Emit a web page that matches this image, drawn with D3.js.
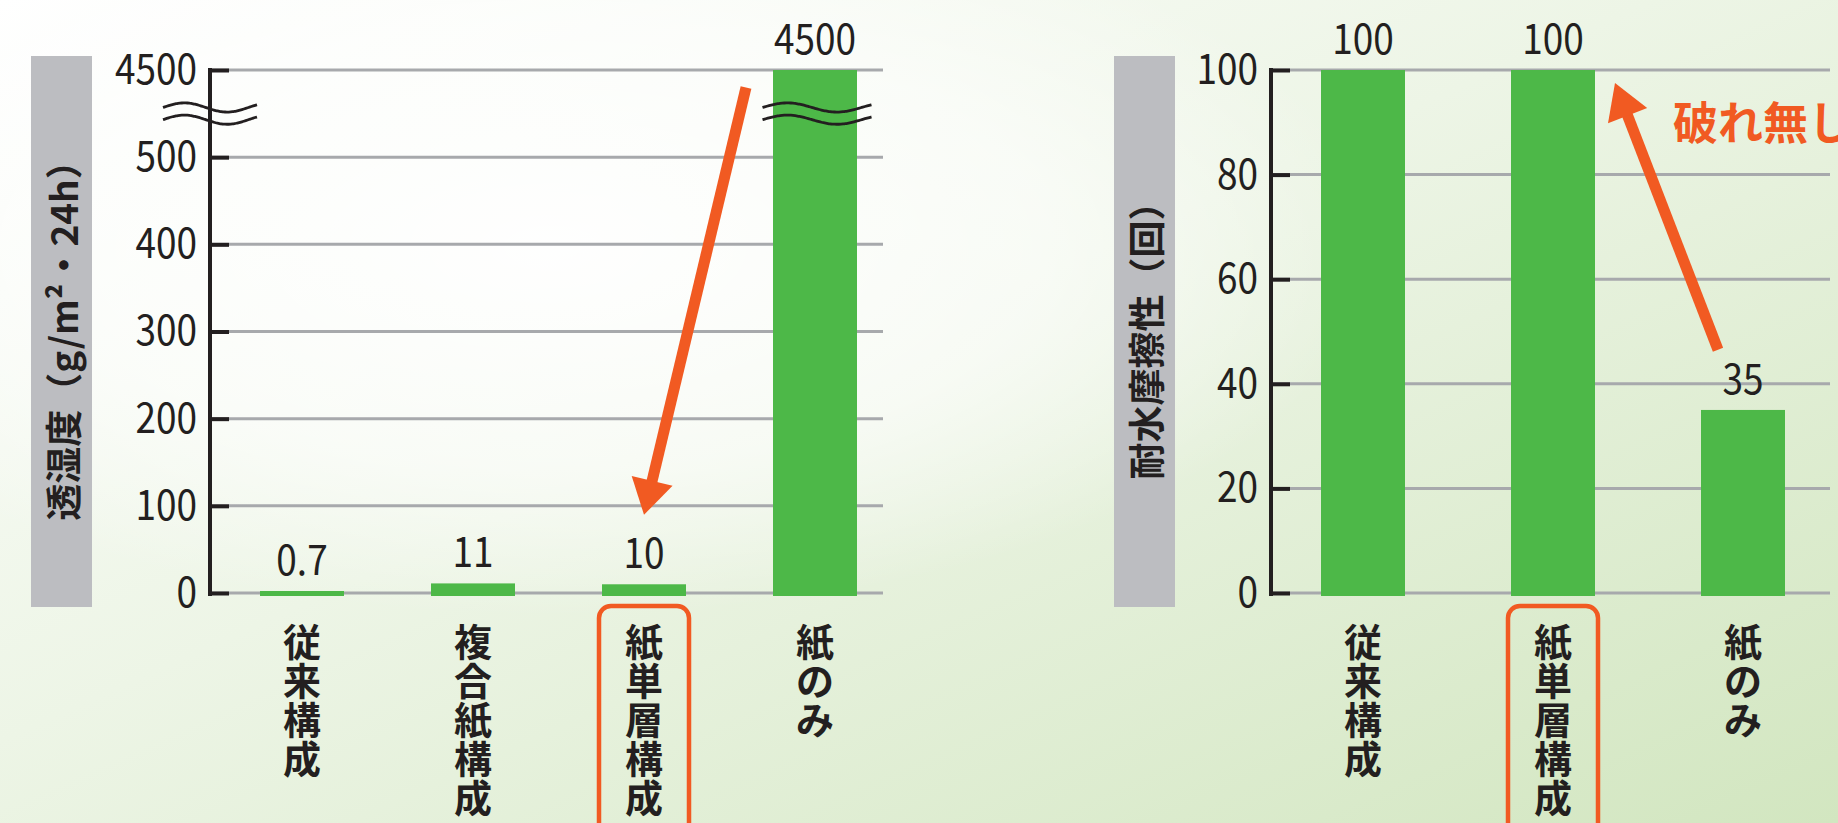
<!DOCTYPE html>
<html><head><meta charset="utf-8">
<script src="https://cdn.jsdelivr.net/npm/d3@7"></script>
<style>
html,body{margin:0;padding:0;overflow:hidden;background:#fff;}
svg{display:block;font-family:"Noto Sans CJK JP","Noto Sans",sans-serif;}
</style></head><body>
<svg id="chart" width="1838" height="823"></svg>
<script>
// ---- data ----
const leftCategories = ["従来構成", "複合紙構成", "紙単層構成", "紙のみ"];
const leftValues = [0.7, 11, 10, 4500];
const leftValueLabels = ["0.7", "11", "10", "4500"];
const leftTicks = [0, 100, 200, 300, 400, 500, 600];
const leftTickLabels = ["0", "100", "200", "300", "400", "500", "4500"];
const leftBreakValue = 600;   // position on the axis where the broken top sits
const leftTitle = "透湿度（g/m²・24h）";

const rightCategories = ["従来構成", "紙単層構成", "紙のみ"];
const rightValues = [100, 100, 35];
const rightValueLabels = ["100", "100", "35"];
const rightTicks = [0, 20, 40, 60, 80, 100];
const rightTickLabels = ["0", "20", "40", "60", "80", "100"];
const rightTitle = "耐水摩擦性（回）";

const highlightCategory = "紙単層構成";
const noteText = "破れ無し";

// ---- styles ----
const INK = "#231f20", GRID = "#a7a9ac", BAR = "#4db848", ORANGE = "#f15a22", BOX = "#bcbdc1";
const NUM_SIZE = 42, NUM_SX = 0.88;
const W = 1838, H = 823;
const svg = d3.select("#chart");

// background
const defs = svg.append("defs");
const lg = defs.append("linearGradient").attr("id", "bg").attr("x1", "0").attr("y1", "0").attr("x2", "1").attr("y2", "1");
lg.append("stop").attr("offset", "0").attr("stop-color", "#ffffff");
lg.append("stop").attr("offset", "0.45").attr("stop-color", "#edf5e6");
lg.append("stop").attr("offset", "1").attr("stop-color", "#d2e6c0");
const rg = defs.append("radialGradient").attr("id", "glow").attr("cx", "0.3").attr("cy", "0.3").attr("r", "0.45");
rg.append("stop").attr("offset", "0").attr("stop-color", "#ffffff").attr("stop-opacity", 0.95);
rg.append("stop").attr("offset", "0.6").attr("stop-color", "#ffffff").attr("stop-opacity", 0.6);
rg.append("stop").attr("offset", "1").attr("stop-color", "#ffffff").attr("stop-opacity", 0);
svg.append("rect").attr("width", W).attr("height", H).attr("fill", "url(#bg)");
svg.append("rect").attr("width", W).attr("height", H).attr("fill", "url(#glow)");

function drawChart(cfg) {
  const g = svg.append("g");
  const y = d3.scaleLinear().domain(cfg.domain).range([593, 70]);
  const x = d3.scalePoint().domain(cfg.categories).range(cfg.xRange).padding(0.5);
  const y0 = y(0);
  const barW = 84;

  // title box
  g.append("rect").attr("x", cfg.boxX).attr("y", 56).attr("width", 61).attr("height", 551).attr("fill", BOX);
  g.append("text").attr("transform", `translate(${cfg.boxX + 30.5},${(56 + 607) / 2}) rotate(-90)`)
    .attr("text-anchor", "middle").attr("dominant-baseline", "central")
    .attr("font-size", 37).attr("font-weight", 700).attr("fill", INK).text(cfg.title);

  // grid
  g.selectAll(".grid").data(cfg.ticks).join("line")
    .attr("x1", cfg.axisX).attr("x2", cfg.gridEnd)
    .attr("y1", d => y(d)).attr("y2", d => y(d))
    .attr("stroke", GRID).attr("stroke-width", 3);

  // bars
  const val = v => Math.min(v, cfg.domain[1]);
  const top = d => Math.min(y(val(d)), y0 - 2);
  g.selectAll(".bar").data(cfg.values).join("rect")
    .attr("x", (d, i) => x(cfg.categories[i]) - barW / 2)
    .attr("width", barW)
    .attr("y", d => top(d))
    .attr("height", d => y0 + 3 - top(d))
    .attr("fill", BAR);

  // value labels
  g.selectAll(".vl").data(cfg.values).join("text")
    .attr("transform", (d, i) => `translate(${x(cfg.categories[i])},${top(d) - 16}) scale(${NUM_SX},1)`)
    .attr("text-anchor", "middle").attr("font-size", NUM_SIZE).attr("fill", INK)
    .text((d, i) => cfg.valueLabels[i]);

  // axis
  const axis = d3.axisLeft(y).tickValues(cfg.ticks)
    .tickFormat((d, i) => cfg.tickLabels[i])
    .tickSizeInner(-19).tickSizeOuter(0).tickPadding(13);
  const ag = g.append("g").attr("transform", `translate(${cfg.axisX},0)`).call(axis);
  ag.select(".domain").remove();
  ag.append("line").attr("x1", 0).attr("x2", 0).attr("y1", y(cfg.domain[1]) - 2).attr("y2", y0 + 3)
    .attr("stroke", INK).attr("stroke-width", 4);
  ag.selectAll(".tick line").attr("stroke", INK).attr("stroke-width", 4);
  ag.selectAll(".tick text").attr("font-size", NUM_SIZE).attr("fill", INK)
    .attr("font-family", '"Noto Sans CJK JP","Noto Sans",sans-serif')
    .attr("x", -13 / NUM_SX).attr("transform", `scale(${NUM_SX},1)`);

  // category labels (vertical, one glyph per line)
  cfg.categories.forEach(c => {
    const chars = Array.from(c);
    g.append("g").selectAll("text").data(chars).join("text")
      .attr("x", x(c)).attr("y", (d, i) => 656 + i * 39)
      .attr("text-anchor", "middle").attr("font-size", 38).attr("font-weight", 700).attr("fill", INK)
      .text(d => d);
  });

  // highlight frame
  g.append("rect").attr("x", x(highlightCategory) - 45).attr("y", 606)
    .attr("width", 90).attr("height", 280).attr("rx", 12)
    .attr("fill", "none").attr("stroke", ORANGE).attr("stroke-width", 4.5);

  return { x, y, g };
}

function wave(g, cx, yc, width) {
  const A = 4.6;
  const pts = d3.range(0, 1.0001, 0.02).map(t => [cx - width / 2 + t * width, yc - A * Math.sin(2 * Math.PI * t * 1.1)]);
  g.append("path").attr("d", d3.line().curve(d3.curveBasis)(pts))
    .attr("fill", "none").attr("stroke", INK).attr("stroke-width", 2.8);
}

function arrow(g, tail, tip) {
  const dx = tip[0] - tail[0], dy = tip[1] - tail[1];
  const len = Math.hypot(dx, dy), ux = dx / len, uy = dy / len;
  const L = 35, HW = 21;
  const bx = tip[0] - ux * L, by = tip[1] - uy * L;
  g.append("line").attr("x1", tail[0]).attr("y1", tail[1]).attr("x2", bx + ux * 2).attr("y2", by + uy * 2)
    .attr("stroke", ORANGE).attr("stroke-width", 11);
  g.append("path").attr("d", `M${tip[0]},${tip[1]}L${bx - uy * HW},${by + ux * HW}L${bx + uy * HW},${by - ux * HW}Z`)
    .attr("fill", ORANGE);
}

// ---- left chart ----
const L = drawChart({
  categories: leftCategories, values: leftValues, valueLabels: leftValueLabels,
  ticks: leftTicks, tickLabels: leftTickLabels, domain: [0, leftBreakValue],
  xRange: [216.5, 900.5], axisX: 210, gridEnd: 883, boxX: 31, title: leftTitle
});
// axis breaks
[550 + 7, 550 - 7].forEach(v => {
  wave(L.g, 210, L.y(v), 94);
  wave(L.g, L.x("紙のみ") + 2, L.y(v), 109);
});
arrow(L.g, [L.x("紙のみ") - 69, L.y(580)], [L.x(highlightCategory), L.y(100) + 9]);

// ---- right chart ----
const R = drawChart({
  categories: rightCategories, values: rightValues, valueLabels: rightValueLabels,
  ticks: rightTicks, tickLabels: rightTickLabels, domain: [0, 100],
  xRange: [1268, 1838], axisX: 1271, gridEnd: 1830, boxX: 1114, title: rightTitle
});
arrow(R.g, [R.x("紙のみ") - 25, R.y(46.5)], [R.x(highlightCategory) + 62, R.y(100) + 13]);
R.g.append("text").attr("x", 1673).attr("y", 140).attr("font-size", 45).attr("font-weight", 700)
  .attr("fill", ORANGE).text(noteText);
</script>
</body></html>
